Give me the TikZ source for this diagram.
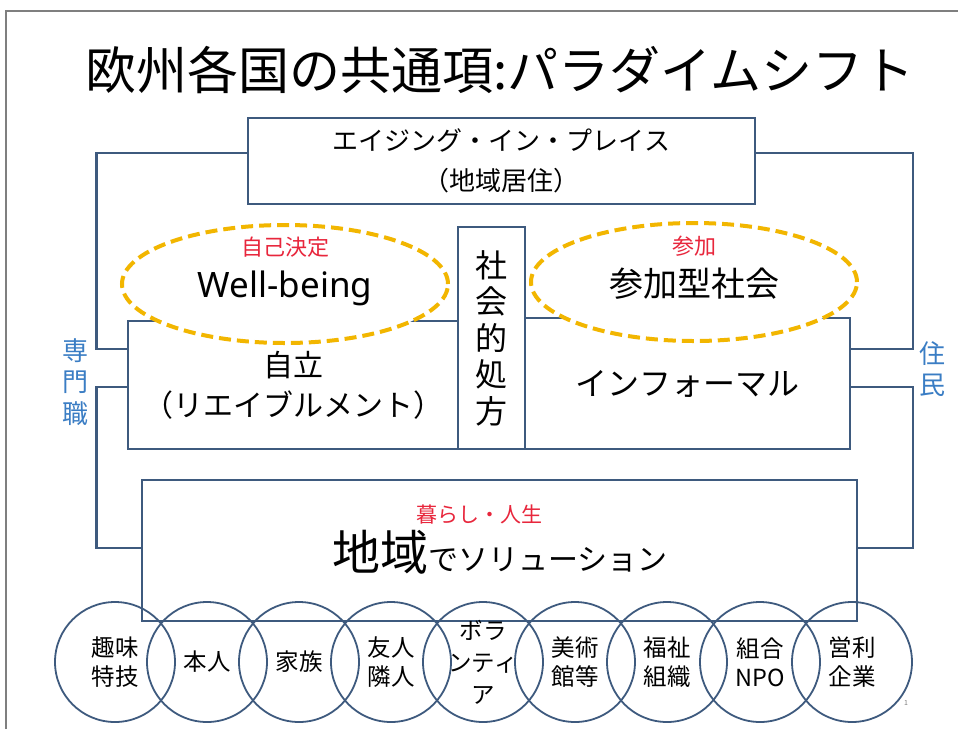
\documentclass[tikz,border=0pt]{standalone}
\usepackage{fontspec}
\setmainfont{Noto Sans CJK JP}
\newfontfamily\latinfont{Noto Sans}
\usetikzlibrary{shapes.geometric}
\definecolor{boxline}{HTML}{3E5A7E}
\definecolor{goldline}{HTML}{F2B600}
\definecolor{redtxt}{HTML}{E8263C}
\definecolor{bluetxt}{HTML}{3A7DC4}
\definecolor{framegray}{HTML}{7F7F7F}
\newcommand{\fs}[2]{\fontsize{#1}{#2}\selectfont}
\begin{document}
\begin{tikzpicture}[x=1pt,y=-1pt,
  boxnode/.style={draw=boxline, line width=2pt, fill=white, inner sep=0pt, align=center},
  conn/.style={draw=boxline, line width=2.2pt},
  ovalnode/.style={ellipse, draw=goldline, line width=4pt, dash pattern=on 12pt off 6pt, fill=white, inner sep=0pt, minimum width=326pt, minimum height=118pt},
  circnode/.style={circle, draw=boxline, line width=1.8pt, minimum size=120pt, inner sep=0pt, align=center, font=\fs{23.5}{29}},
  redlabel/.style={text=redtxt, inner sep=0pt},
  bluelabel/.style={text=bluetxt, inner sep=0pt, align=center, font=\fs{26}{31.5}}
]
\useasboundingbox (0,0) rectangle (958,729);
\fill[white] (0,0) rectangle (958,729);
% slide frame
\coordinate (fbl) at (6,729);
\coordinate (ftl) at (6,11);
\coordinate (ftr) at (958,11);
\draw[framegray, line width=1.5pt] (fbl) -- (ftl) -- (ftr);

% title
\node[inner sep=0pt, font=\fs{51}{60}] (title) at (500,70) {欧州各国の共通項:パラダイムシフト};

% rails
\coordinate (lrail) at (96.5,0);
\coordinate (rrail) at (913,0);

% boxes
\node[boxnode, minimum width=507pt, minimum height=86pt, font=\fs{26}{40}] (top) at (501.5,161) {エイジング・イン・プレイス\\（地域居住）};
\node[boxnode, minimum width=330pt, minimum height=128pt, font=\fs{30}{40}] (jiritsu) at (293,385) {自立\\（リエイブルメント）};
\node[boxnode, minimum width=325pt, minimum height=131pt, font=\fs{32}{40}] (informal) at (687.5,383.5) {インフォーマル};
\node[boxnode, minimum width=67pt, minimum height=222pt, font=\fs{32}{36.5}] (shakai) at (491.5,338) {社\\会\\的\\処\\方};
\node[boxnode, minimum width=715pt, minimum height=141pt] (chiiki) at (499.5,550.5) {};

% connectors
\draw[conn] (top.west |- 0,153) -| (lrail |- 0,349) -- (jiritsu.west |- 0,349);
\draw[conn] (jiritsu.west |- 0,387) -| (lrail |- 0,548) -- (chiiki.west |- 0,548);
\draw[conn] (top.east |- 0,153) -| (rrail |- 0,349) -- (informal.east |- 0,349);
\draw[conn] (informal.east |- 0,387) -| (rrail |- 0,548) -- (chiiki.east |- 0,548);

% ellipses
\node[ovalnode] (wb) at (285,284) {};
\node[ovalnode] (sanka) at (694,282) {};
\node[redlabel, font=\fs{22}{24}] (jiko) at (285,247) {自己決定};
\node[inner sep=0pt, font=\latinfont\fs{35}{40}] (wbtext) at (285,288) {Well-being};
\node[redlabel, font=\fs{22}{24}] (sankared) at (694,246) {参加};
\node[inner sep=0pt, font=\fs{34}{40}] (sankatext) at (694,284) {参加型社会};

% chiiki texts
\node[redlabel, font=\fs{21}{24}] (kurashi) at (479,515) {暮らし・人生};
\node[inner sep=0pt, anchor=base] (chiikitext) at (500,570) {{\fs{48}{52}地域}{\fs{30}{36}でソリューション}};

% side labels
\node[bluelabel] (senmon) at (75,382) {専\\門\\職};
\node[bluelabel] (jumin) at (932,369) {住\\民};

% circles
\node[circnode] (c1) at (115,662) {趣味\\特技};
\node[circnode] (c2) at (207,662) {本人};
\node[circnode] (c3) at (299,662) {家族};
\node[circnode] (c4) at (391,662) {友人\\隣人};
\node[circnode, font=\fs{23.5}{32}] (c5) at (483,662) {ボラ\\ンティ\\ア};
\node[circnode] (c6) at (575,662) {美術\\館等};
\node[circnode] (c7) at (667,662) {福祉\\組織};
\node[circnode] (c8) at (760,662) {組合\\NPO};
\node[circnode] (c9) at (852,662) {営利\\企業};

% page number
\node[text=framegray, inner sep=0pt, font=\fs{7}{8}] (pnum) at (906,703) {1};
\end{tikzpicture}
\end{document}
